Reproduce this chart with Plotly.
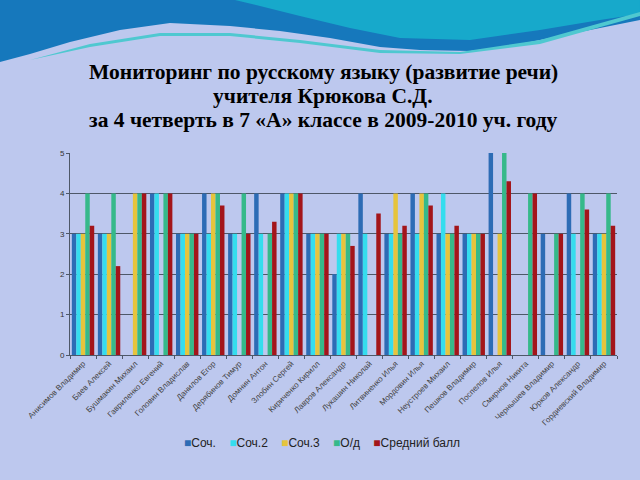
import plotly.graph_objects as go

# ученики
students = [
    "Анисимов Владимир", "Баев Алексей", "Бушмакин Михаил", "Гавриленко Евгений",
    "Головин Владислав", "Данилов Егор", "Дерябинов Тимур", "Домнин Антон",
    "Злобин Сергей", "Кириченко Кирилл", "Лавров Александр", "Лукашин Николай",
    "Литвиненко Илья", "Мордовин Илья", "Неустроев Михаил", "Пешков Владимир",
    "Поспелов Илья", "Смирнов Никита", "Чернышев Владимир", "Юрков Александр",
    "Гордиевский Владимир",
]

# оценки (0 = нет оценки)
soch1 = [3, 3, 0, 4, 3, 4, 3, 4, 4, 3, 2, 4, 3, 4, 3, 3, 5, 0, 3, 4, 3]
soch2 = [3, 3, 0, 4, 3, 3, 3, 3, 4, 3, 3, 3, 3, 3, 4, 3, 0, 0, 0, 3, 3]
soch3 = [3, 3, 4, 0, 3, 4, 0, 0, 4, 3, 3, 0, 4, 4, 3, 3, 3, 0, 0, 0, 3]
od = [4, 4, 4, 4, 3, 4, 4, 3, 4, 3, 3, 0, 3, 4, 3, 3, 5, 4, 3, 4, 4]
avg = [3.2, 2.2, 4, 4, 3, 3.7, 3, 3.3, 4, 3, 2.7, 3.5, 3.2, 3.7, 3.2, 3, 4.3, 4, 3, 3.6, 3.2]

title_lines = [
    "Мониторинг по русскому языку (развитие речи)",
    "учителя Крюкова С.Д.",
    "за 4 четверть в 7 «А» классе в 2009-2010 уч. году",
]

series = [
    ("Соч.", soch1, "#2D6CB5"),
    ("Соч.2", soch2, "#35DDEE"),
    ("Соч.3", soch3, "#E6C43C"),
    ("О/д", od, "#36B98A"),
    ("Средний балл", avg, "#A3151A"),
]

fig = go.Figure()
for name, vals, color in series:
    fig.add_trace(go.Bar(x=students, y=vals, name=name, marker_color=color,
                         marker_line_width=0))

# пиксели -> координаты paper (область графика 70..617 x 153..355)
def px(x, y):
    return (x - 70) / 547, (355 - y) / 202

def path(points):
    s = ""
    for i, (x, y) in enumerate(points):
        a, b = px(x, y)
        s += ("M" if i == 0 else " L") + f"{a:.4f},{b:.4f}"
    return s + " Z"

# декоративная волна сверху
band = [(0, 0), (640, 0), (640, 20), (600, 28), (560, 36), (510, 46), (470, 51),
        (420, 50), (380, 47), (330, 38), (280, 31), (230, 26), (170, 23),
        (120, 30), (70, 42), (30, 54), (0, 62)]
teal = [(235, 0), (640, 0), (640, 14), (600, 20), (540, 30), (470, 40), (400, 38),
        (350, 28), (300, 16), (260, 6)]
stripe = [(30, 60), (90, 44), (160, 33), (230, 33), (300, 40), (380, 50), (460, 52),
          (540, 40), (640, 12), (640, 16), (540, 44), (460, 54), (380, 53), (300, 43),
          (230, 36), (160, 36), (90, 47)]
fig.add_shape(type="path", path=path(band), xref="paper", yref="paper",
              fillcolor="#1678BC", line_width=0, layer="below")
fig.add_shape(type="path", path=path(teal), xref="paper", yref="paper",
              fillcolor="#17A9CB", line_width=0, layer="below")
fig.add_shape(type="path", path=path(stripe), xref="paper", yref="paper",
              fillcolor="#4FC8D0", line_width=0, layer="below")

# заголовок построчно
for i, line in enumerate(title_lines):
    fig.add_annotation(text=line, xref="paper", yref="paper",
                       x=px(323, 0)[0], y=px(0, 72 + 24 * i)[1],
                       xanchor="center", yanchor="middle", showarrow=False,
                       font=dict(family="Liberation Serif", size=21.5, color="#000000",
                                 weight="bold"))

# легенда
leg = "    ".join(f"<span style='color:{c}'>■</span>{n}" for n, _, c in series)
fig.add_annotation(text=leg, xref="paper", yref="paper",
                   x=px(322, 0)[0], y=px(0, 443)[1], xanchor="center", yanchor="middle",
                   showarrow=False, font=dict(family="Liberation Sans", size=12,
                                              color="#222222"))

fig.update_layout(
    width=640, height=480,
    paper_bgcolor="#BDC8EE", plot_bgcolor="#BDC8EE",
    margin=dict(l=70, r=23, t=153, b=125),
    barmode="group", bargap=0.14, bargroupgap=0,
    font=dict(family="Liberation Sans", color="#333333"),
    showlegend=False,
)
fig.update_yaxes(range=[0, 5], dtick=1, showgrid=True, gridcolor="#4E5868", gridwidth=1,
                 showline=True, linecolor="#4E5868", ticks="outside", ticklen=3,
                 tickcolor="#4E5868", tickfont=dict(size=8), zeroline=False)
fig.update_xaxes(showline=True, linecolor="#4E5868", tickangle=-45, ticks="outside",
                 ticklen=3, tickcolor="#4E5868", tickfont=dict(size=8, color="#444444"),
                 tickson="boundaries")

fig.write_html("out.html", config={"displayModeBar": False},
               post_script="document.body.style.margin='0';")
